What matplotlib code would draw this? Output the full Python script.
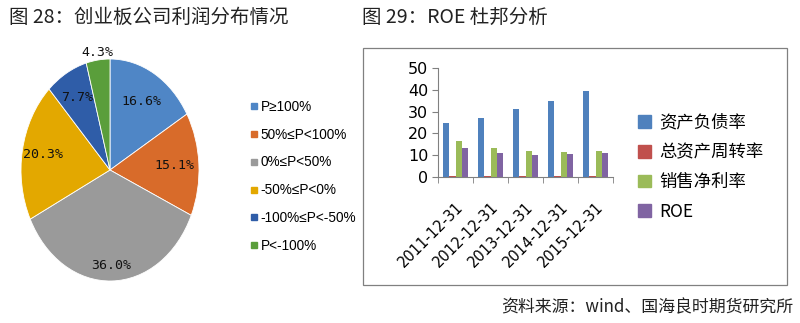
import matplotlib
matplotlib.use('Agg')
import matplotlib.pyplot as plt
import numpy as np
from matplotlib.lines import Line2D
from matplotlib.patches import Rectangle, Patch

plt.rcParams['font.family'] = ['Noto Sans CJK SC', 'DejaVu Sans']

# 图28 数据
pie_labels = ['P≥100%', '50%≤P<100%', '0%≤P<50%', '-50%≤P<0%', '-100%≤P<-50%', 'P<-100%']
pie_values = [16.6, 15.1, 36.0, 20.3, 7.7, 4.3]
pie_colors = ['#4F86C6', '#D86B2A', '#9A9A9A', '#E3A800', '#2F5DA8', '#5A9E3B']

# 图29 数据
dates = ['2011-12-31', '2012-12-31', '2013-12-31', '2014-12-31', '2015-12-31']
series_names = ['资产负债率', '总资产周转率', '销售净利率', 'ROE']
debt_ratio = [24.8, 27.1, 31.3, 35.0, 39.6]
asset_turnover = [0.5, 0.5, 0.5, 0.5, 0.5]
net_margin = [16.6, 13.3, 12.0, 11.5, 12.0]
roe = [13.3, 11.0, 10.1, 10.6, 11.0]
bar_colors = ['#4F81BD', '#C0504D', '#9BBB59', '#8064A2']

W, H = 800, 323
fig = plt.figure(figsize=(8, 3.23), dpi=100)

def fx(px):
    return px / W

def fy(py):
    return 1 - py / H

# 标题
fig.text(fx(9), fy(17), '图 28：创业板公司利润分布情况', fontsize=14, va='center', ha='left', color='#222222')
fig.text(fx(362), fy(17), '图 29：ROE 杜邦分析', fontsize=14, va='center', ha='left', color='#222222')
fig.text(fx(793), fy(307), '资料来源：wind、国海良时期货研究所', fontsize=12.2, va='center', ha='right', color='#222222')

# 饼图
ax1 = fig.add_axes([fx(21), fy(281), fx(178), 222 / H])
wedges, _ = ax1.pie(pie_values, colors=pie_colors, startangle=90, counterclock=False,
                    wedgeprops=dict(edgecolor='white', linewidth=0.6))
ax1.set_aspect('auto')
ax1.set_xlim(-1, 1)
ax1.set_ylim(-1, 1)
label_dist = [0.71, 0.73, 0.86, 0.76, 0.75, 1.07]
for w, v, d in zip(wedges, pie_values, label_dist):
    ang = np.deg2rad((w.theta1 + w.theta2) / 2)
    ax1.text(d * np.cos(ang), d * np.sin(ang), '%.1f%%' % v, ha='center', va='center',
             fontsize=9.5, family='DejaVu Sans Mono', color='#111111')

handles = [Line2D([], [], marker='s', linestyle='none', markersize=5, markerfacecolor=c,
                  markeredgecolor=c) for c in pie_colors]
fig.legend(handles, pie_labels, loc='upper left', bbox_to_anchor=(fx(247), fy(97)),
           frameon=False, handlelength=0.6, handletextpad=0.2, labelspacing=1.02,
           borderaxespad=0, borderpad=0.2,
           prop=dict(family=['Liberation Sans', 'DejaVu Sans'], size=9.8))

# 柱状图外框
fig.patches.append(Rectangle((fx(363), fy(285)), fx(787 - 363), (285 - 48) / H,
                             transform=fig.transFigure, fill=False, edgecolor='#808080', linewidth=0.9))

ax2 = fig.add_axes([fx(438), fy(177), fx(175), 109 / H])
x = np.arange(len(dates))
bw = 0.185
all_series = [debt_ratio, asset_turnover, net_margin, roe]
for i, (vals, c) in enumerate(zip(all_series, bar_colors)):
    ax2.bar(x + (i - 1.5) * bw, vals, width=bw, color=c, linewidth=0)
ax2.set_xlim(-0.5, len(dates) - 0.5)
ax2.set_ylim(0, 50)
ax2.set_yticks(np.arange(0, 51, 10))
ax2.set_xticks(x)
ax2.set_xticklabels(dates, rotation=45, ha='right', rotation_mode='anchor', fontsize=10.5,
                    family='DejaVu Sans')
ax2.set_xticks(np.arange(-0.5, len(dates), 1), minor=True)
ax2.tick_params(axis='x', which='major', length=0, pad=16)
ax2.tick_params(axis='x', which='minor', length=4, color='#808080')
ax2.tick_params(axis='y', length=4, color='#808080', labelsize=11.5, pad=3)
for s in ['top', 'right']:
    ax2.spines[s].set_visible(False)
for s in ['left', 'bottom']:
    ax2.spines[s].set_color('#808080')
    ax2.spines[s].set_linewidth(0.8)
for lab in ax2.get_yticklabels():
    lab.set_family('DejaVu Sans')

leg_handles = [Patch(facecolor=c, edgecolor=c) for c in bar_colors]
fig.legend(leg_handles, series_names, loc='upper left', bbox_to_anchor=(fx(635), fy(110)),
           frameon=False, handlelength=0.75, handleheight=0.75, handletextpad=0.45,
           labelspacing=0.68, borderaxespad=0, borderpad=0.2, prop=dict(size=12.5))

fig.savefig('out.png', dpi=100)
